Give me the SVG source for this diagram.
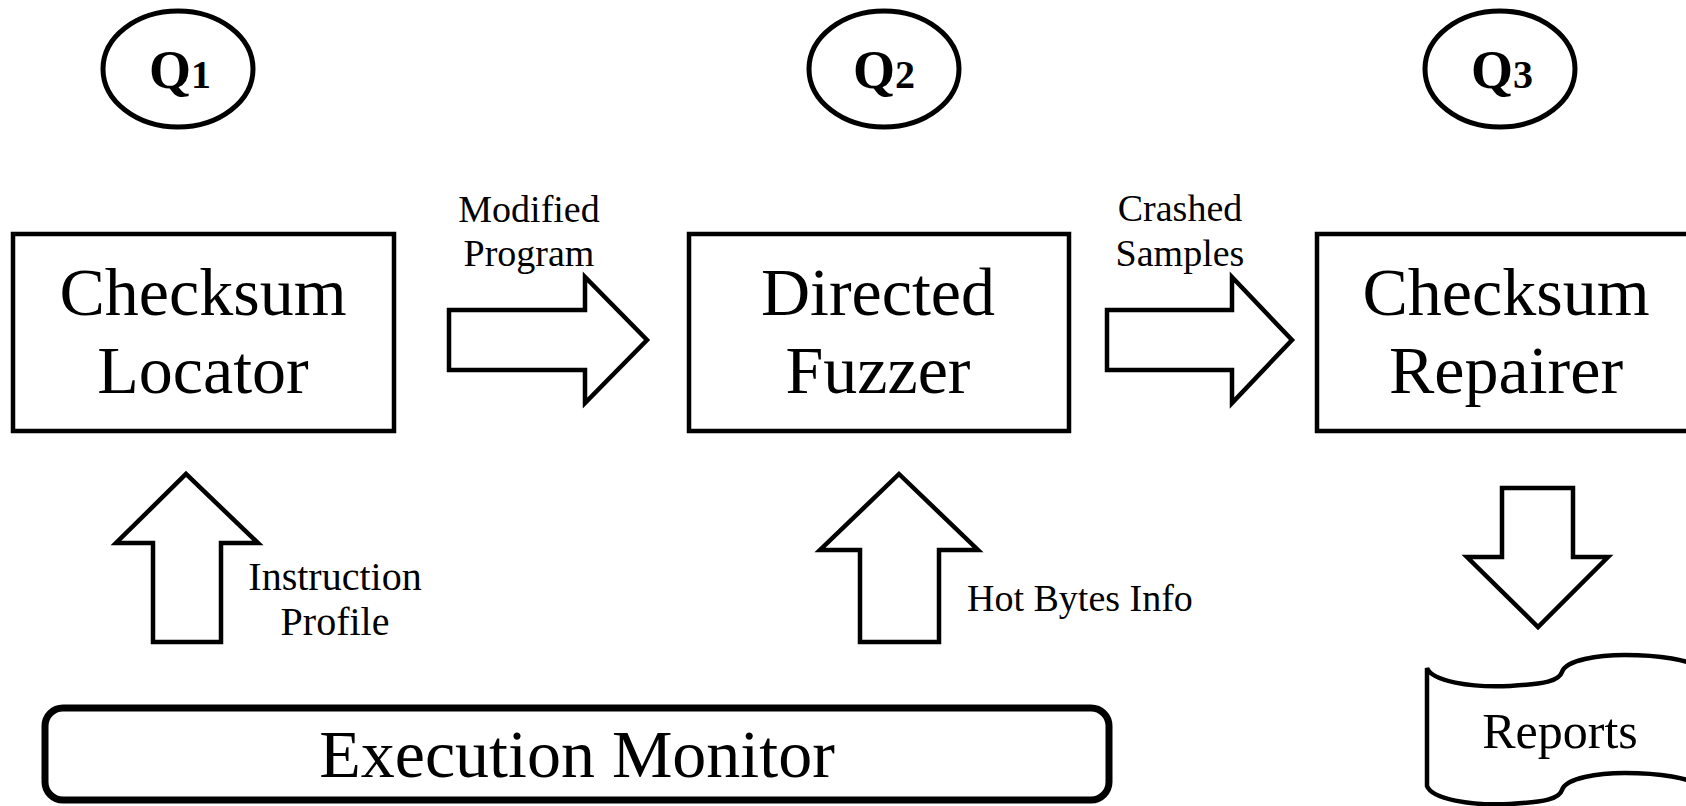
<svg xmlns="http://www.w3.org/2000/svg" width="1686" height="806" viewBox="0 0 1686 806">
  <style>
    .shape { fill: #ffffff; stroke: #000000; stroke-width: 4.5; stroke-linejoin: miter; }
    .oval { fill: #ffffff; stroke: #000000; stroke-width: 5; }
    .big { font-family: "Liberation Serif", serif; font-size: 68px; fill: #000000; text-anchor: middle; }
    .lbl { font-family: "Liberation Serif", serif; font-size: 38px; fill: #000000; text-anchor: middle; }
    .q { font-family: "Liberation Serif", serif; font-weight: bold; font-size: 54px; fill: #000000; text-anchor: middle; }
    .fig { font-size: 40px; }
  </style>
  <rect width="1686" height="806" fill="#ffffff"/>

  <!-- research question markers -->
  <g id="q1">
    <ellipse class="oval" cx="178" cy="69" rx="75" ry="58"/>
    <text class="q" x="180" y="88">Q<tspan class="fig">1</tspan></text>
  </g>
  <g id="q2">
    <ellipse class="oval" cx="884" cy="69" rx="75" ry="58"/>
    <text class="q" x="884" y="88">Q<tspan class="fig">2</tspan></text>
  </g>
  <g id="q3">
    <ellipse class="oval" cx="1500" cy="69" rx="75" ry="58"/>
    <text class="q" x="1502" y="88">Q<tspan class="fig">3</tspan></text>
  </g>

  <!-- pipeline stages -->
  <g id="checksum-locator">
    <rect class="shape" x="13" y="234" width="381" height="197"/>
    <text class="big" x="203" y="315">Checksum</text>
    <text class="big" x="203" y="393">Locator</text>
  </g>
  <g id="directed-fuzzer">
    <rect class="shape" x="689" y="234" width="380" height="197"/>
    <text class="big" x="878" y="315">Directed</text>
    <text class="big" x="878" y="393">Fuzzer</text>
  </g>
  <g id="checksum-repairer">
    <rect class="shape" x="1317" y="234" width="380" height="197"/>
    <text class="big" x="1506" y="315">Checksum</text>
    <text class="big" x="1506" y="393">Repairer</text>
  </g>
  <g id="execution-monitor">
    <rect x="45" y="708" width="1064" height="92" rx="18" ry="18" fill="#ffffff" stroke="#000000" stroke-width="7"/>
    <text class="big" x="577" y="777">Execution Monitor</text>
  </g>
  <g id="reports">
    <path class="shape" d="M1427,668 C1432,681 1470,688 1510,686 C1545,684 1559,681 1562,672 C1566,660 1598,655 1625,655 C1660,655 1690,660 1700,668 L1700,786 C1690,778 1660,773 1625,773 C1598,773 1566,778 1562,790 C1559,799 1545,802 1510,804 C1470,806 1432,799 1427,786 Z"/>
    <text class="big" style="font-size:50px" x="1560" y="748">Reports</text>
  </g>

  <!-- block arrows between stages -->
  <g id="connectors">
    <path class="shape" d="M449,310 L585,310 L585,277 L647,340 L585,403 L585,370 L449,370 Z"/>
    <path class="shape" d="M1107,310 L1232,310 L1232,277 L1292,340 L1232,403 L1232,370 L1107,370 Z"/>
    <path class="shape" d="M153,642 L153,543 L116,543 L186,474 L258,543 L221,543 L221,642 Z"/>
    <path class="shape" d="M860,642 L860,550 L820,550 L899,474 L978,550 L939,550 L939,642 Z"/>
    <path class="shape" d="M1502,488 L1573,488 L1573,557 L1608,557 L1538,627 L1467,557 L1502,557 Z"/>
    <text class="lbl" x="529" y="222">Modified</text>
    <text class="lbl" x="529" y="266">Program</text>
    <text class="lbl" x="1180" y="221">Crashed</text>
    <text class="lbl" x="1180" y="266">Samples</text>
    <text class="lbl" x="335" y="590" style="font-size:40px">Instruction</text>
    <text class="lbl" x="335" y="635" style="font-size:40px">Profile</text>
    <text class="lbl" x="967" y="611" style="text-anchor:start">Hot Bytes Info</text>
  </g>
</svg>
